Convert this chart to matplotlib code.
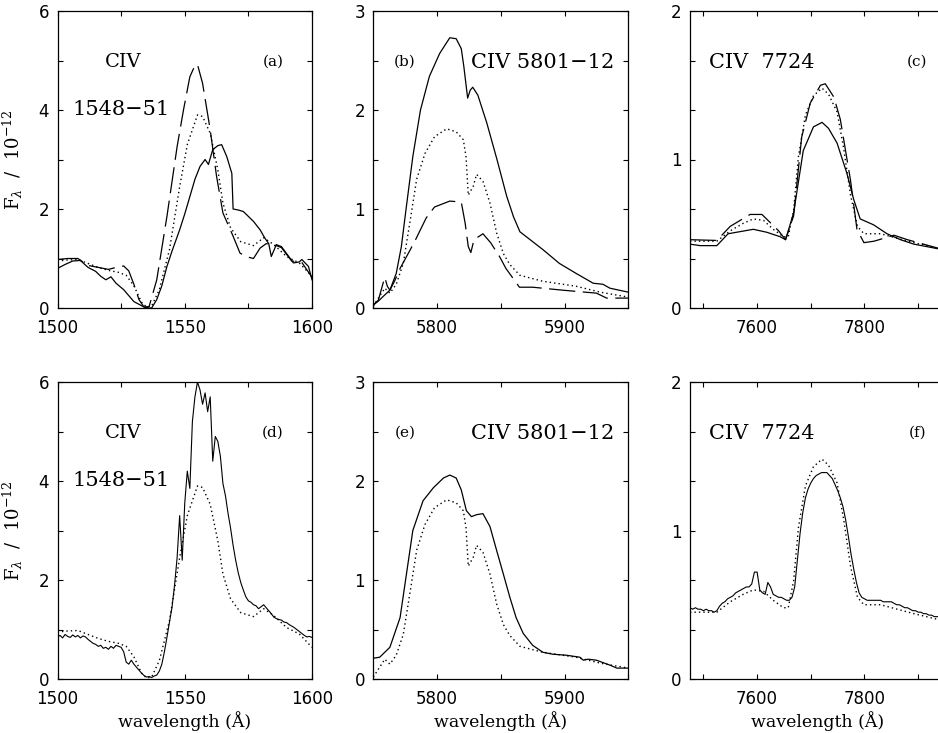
import numpy as np
import matplotlib
matplotlib.use("Agg")
import matplotlib.pyplot as plt
from matplotlib.ticker import MultipleLocator, FixedLocator

plt.rcParams['font.family'] = ['DejaVu Serif']
plt.rcParams['mathtext.fontset'] = 'dejavuserif'

# ---- CIV 1548-51 (panels a, d) ----
uv_solid_wl = [1500, 1503, 1506, 1509, 1512, 1515, 1517, 1519, 1521, 1523, 1526, 1530, 1534, 1536, 1537,
               1539, 1541, 1543, 1545, 1548, 1550, 1552, 1554, 1556, 1558, 1559.3, 1561, 1563, 1564.5,
               1566.5, 1568.5, 1569, 1571, 1573, 1575, 1577, 1579.6, 1581.5, 1583, 1584, 1586, 1588,
               1590, 1592.7, 1595, 1596, 1598.6, 1600]
uv_solid = [0.80, 0.88, 0.95, 0.96, 0.82, 0.74, 0.64, 0.57, 0.63, 0.50, 0.37, 0.13, 0.02, 0.0, 0.0,
            0.17, 0.45, 0.84, 1.15, 1.58, 1.90, 2.25, 2.60, 2.86, 3.00, 2.90, 3.20, 3.28, 3.30,
            3.06, 2.72, 2.00, 1.98, 1.95, 1.85, 1.75, 1.58, 1.41, 1.30, 1.04, 1.28, 1.24,
            1.10, 0.91, 0.93, 0.98, 0.84, 0.57]

uv_dot_wl = [1500, 1504, 1508, 1512, 1516, 1520, 1524, 1527, 1530, 1533, 1535, 1537, 1540, 1544, 1548,
             1551, 1555, 1557, 1560, 1563, 1565, 1568, 1572, 1577, 1581, 1585, 1590, 1595, 1600]
uv_dot = [0.95, 0.97, 0.98, 0.90, 0.82, 0.76, 0.72, 0.66, 0.45, 0.12, 0.02, 0.04, 0.37, 1.18, 2.45,
          3.30, 3.90, 3.87, 3.53, 2.79, 2.12, 1.62, 1.34, 1.26, 1.42, 1.28, 1.04, 0.91, 0.64]

uv_dash_wl = [1500, 1504, 1508, 1512, 1516, 1520, 1523, 1526, 1528, 1530, 1532, 1534, 1536, 1539, 1543,
              1547, 1549.5, 1552, 1554, 1555, 1557, 1560, 1562.5, 1565, 1569, 1571.7, 1574, 1577,
              1579.6, 1582, 1585, 1588, 1592, 1596, 1600]
uv_dash = [0.98, 1.00, 1.00, 0.86, 0.82, 0.78, 0.82, 0.85, 0.75, 0.48, 0.17, 0.02, 0.03, 0.57, 1.85,
           3.26, 4.00, 4.67, 4.90, 4.92, 4.54, 3.60, 2.66, 1.92, 1.45, 1.11, 1.04, 1.00,
           1.21, 1.30, 1.28, 1.22, 0.95, 0.92, 0.62]

# observed spectrum, 1 A bins from 1500 to 1600
uv_obs_wl = np.arange(1500, 1601)
uv_obs = [0.85, 0.88, 0.83, 0.90, 0.86, 0.84, 0.89, 0.85, 0.88, 0.83,
          0.87, 0.85, 0.80, 0.76, 0.72, 0.70, 0.66, 0.68, 0.62, 0.64,
          0.60, 0.66, 0.62, 0.68, 0.66, 0.64, 0.55, 0.34, 0.30, 0.38,
          0.30, 0.24, 0.18, 0.12, 0.07, 0.04, 0.05, 0.03, 0.06, 0.08,
          0.16, 0.30, 0.55, 0.84, 1.15, 1.45, 1.90, 2.45, 3.30, 2.40,
          3.55, 4.20, 3.85, 5.20, 5.70, 6.00, 5.84, 5.55, 5.78, 5.40,
          5.70, 4.40, 4.90, 4.80, 4.50, 3.95, 3.70, 3.35, 3.05, 2.70,
          2.40, 2.15, 1.95, 1.80, 1.66, 1.58, 1.55, 1.50, 1.48, 1.42,
          1.46, 1.50, 1.44, 1.38, 1.32, 1.25, 1.22, 1.20, 1.19, 1.15,
          1.14, 1.10, 1.07, 1.04, 1.00, 0.96, 0.92, 0.88, 0.85, 0.86,
          0.84]

# ---- CIV 5801-12 (panels b, e) ----
vis_solid_wl = [5750, 5754, 5758, 5763, 5768, 5772, 5776, 5781, 5787, 5794, 5802, 5810, 5815, 5819,
                5821, 5824, 5826, 5828, 5832, 5839, 5847, 5854.6, 5860, 5865, 5873, 5883, 5896,
                5909, 5922.5, 5930, 5935.6, 5950]
vis_solid = [0.03, 0.07, 0.12, 0.18, 0.35, 0.62, 1.03, 1.53, 2.00, 2.34, 2.57, 2.73, 2.72, 2.62,
             2.44, 2.12, 2.20, 2.23, 2.15, 1.87, 1.50, 1.13, 0.92, 0.77, 0.69, 0.59, 0.45,
             0.35, 0.25, 0.24, 0.20, 0.16]

vis_dot_wl = [5750, 5755, 5759, 5763, 5768, 5773.5, 5779, 5784, 5790.5, 5798, 5807.5, 5815, 5820.6,
              5822.7, 5824.5, 5828.4, 5831, 5836, 5841.5, 5846.7, 5852, 5857, 5865, 5883, 5909,
              5928, 5950]
vis_dot = [0.02, 0.12, 0.20, 0.15, 0.24, 0.45, 0.89, 1.30, 1.56, 1.73, 1.81, 1.78, 1.70,
           1.53, 1.14, 1.23, 1.35, 1.28, 1.06, 0.76, 0.55, 0.44, 0.33, 0.27, 0.22,
           0.16, 0.11]

vis_dash_wl = [5750, 5754, 5757, 5759, 5761, 5763, 5767, 5771, 5782, 5791.5, 5798, 5810,
               5819, 5822, 5824.5, 5826.5, 5829, 5836, 5842, 5849, 5854, 5864.6,
               5875, 5898.5, 5925, 5933, 5950]
vis_dash = [0.03, 0.08, 0.22, 0.31, 0.22, 0.18, 0.28, 0.40, 0.66, 0.91, 1.02, 1.08,
            1.07, 0.86, 0.62, 0.56, 0.69, 0.75, 0.66, 0.52, 0.40, 0.21,
            0.21, 0.18, 0.15, 0.10, 0.10]

vis_obs_wl = [5750, 5755, 5763, 5771, 5776, 5781, 5789, 5797, 5805, 5810, 5815, 5819, 5823, 5827,
              5831, 5836, 5841.5, 5846.7, 5852, 5857, 5862, 5867.6, 5875, 5883, 5891, 5901.6,
              5912, 5914.7, 5918.6, 5925, 5935.6, 5941, 5950]
vis_obs = [0.21, 0.22, 0.32, 0.62, 1.06, 1.50, 1.80, 1.93, 2.03, 2.06, 2.03, 1.91, 1.70, 1.64,
           1.66, 1.67, 1.54, 1.30, 1.06, 0.83, 0.62, 0.46, 0.34, 0.27, 0.25, 0.24,
           0.22, 0.19, 0.20, 0.19, 0.14, 0.11, 0.11]

# ---- CIV 7724 (panels c, f) ----
ir_solid_wl = [7475, 7494, 7525, 7546, 7593, 7618, 7643, 7653, 7668, 7686, 7705, 7721, 7733, 7749,
               7767, 7780, 7792, 7817, 7842, 7867, 7892, 7950]
ir_solid = [0.43, 0.42, 0.42, 0.50, 0.53, 0.51, 0.48, 0.46, 0.64, 1.06, 1.22, 1.25, 1.21, 1.11,
            0.91, 0.73, 0.60, 0.56, 0.50, 0.46, 0.43, 0.39]

ir_dot_wl = [7475, 7500, 7525, 7550, 7574, 7593, 7612, 7630, 7649, 7658, 7668, 7677, 7690, 7705,
             7721, 7733, 7749, 7761, 7774, 7787, 7799, 7830, 7861, 7892, 7950]
ir_dot = [0.45, 0.45, 0.45, 0.52, 0.57, 0.60, 0.59, 0.53, 0.48, 0.48, 0.66, 1.02, 1.30, 1.43,
          1.48, 1.44, 1.32, 1.08, 0.76, 0.55, 0.50, 0.50, 0.47, 0.44, 0.39]

ir_dash_wl = [7475, 7525, 7550, 7587, 7609, 7640, 7653, 7668, 7683, 7699, 7718, 7727, 7743, 7755,
              7774, 7786, 7799, 7818, 7855, 7880, 7950]
ir_dash = [0.46, 0.455, 0.55, 0.63, 0.63, 0.52, 0.46, 0.62, 1.15, 1.38, 1.50, 1.51, 1.42, 1.27,
           0.86, 0.53, 0.44, 0.45, 0.49, 0.46, 0.39]

# observed spectrum, 5 A bins from 7475 to 7950
ir_obs_wl = np.arange(7475, 7951, 5)
ir_obs = [0.48, 0.47, 0.48, 0.47, 0.47, 0.46, 0.47, 0.46, 0.46, 0.45,
          0.46, 0.49, 0.51, 0.52, 0.54, 0.55, 0.56, 0.58, 0.59, 0.60,
          0.61, 0.62, 0.62, 0.64, 0.72, 0.72, 0.60, 0.58, 0.57, 0.65,
          0.62, 0.57, 0.56, 0.55, 0.55, 0.54, 0.53, 0.53, 0.55, 0.62,
          0.80, 0.98, 1.12, 1.22, 1.28, 1.32, 1.35, 1.37, 1.38, 1.39,
          1.39, 1.39, 1.37, 1.35, 1.31, 1.27, 1.22, 1.16, 1.07, 0.96,
          0.84, 0.74, 0.65, 0.58, 0.55, 0.54, 0.53, 0.53, 0.53, 0.53,
          0.53, 0.53, 0.52, 0.52, 0.52, 0.52, 0.51, 0.50, 0.50, 0.49,
          0.48, 0.48, 0.47, 0.46, 0.46, 0.45, 0.45, 0.44, 0.44, 0.43,
          0.43, 0.42, 0.42, 0.42, 0.41, 0.41]

W, H = 938, 733
fig = plt.figure(figsize=(W / 100, H / 100), dpi=100)


def make_ax(left, top, width=255, height=297):
    return fig.add_axes([left / W, 1 - (top + height) / H, width / W, height / H])


solid = dict(color='black', lw=0.9, ls='-')
dotted = dict(color='black', lw=1.0, ls=(0, (1, 2.2)))
dashed = dict(color='black', lw=0.9, ls=(0, (21, 6)))


def style(ax, xlim, ylim, xmaj, xmin, ymaj, ymin):
    ax.set_xlim(*xlim)
    ax.set_ylim(*ylim)
    ax.xaxis.set_major_locator(FixedLocator(xmaj))
    ax.xaxis.set_minor_locator(MultipleLocator(xmin))
    ax.yaxis.set_major_locator(FixedLocator(ymaj))
    ax.yaxis.set_minor_locator(FixedLocator(ymin))
    ax.tick_params(which='both', direction='in', top=True, right=True, length=3.5, width=0.8,
                   labelsize=12)
    ax.tick_params(axis='x', pad=8)
    ax.tick_params(axis='y', pad=6)
    for lab in ax.get_xticklabels() + ax.get_yticklabels():
        lab.set_family('DejaVu Sans')
    for s in ax.spines.values():
        s.set_linewidth(0.9)


tfs = 15
lfs = 11

rows = [(11, False), (382, True)]
for r, (top, obs) in enumerate(rows):
    # CIV 1548-51
    ax = make_ax(57.5, top, width=254.5)
    if obs:
        ax.plot(uv_obs_wl, uv_obs, color='black', lw=0.8)
        ax.plot(uv_dot_wl, uv_dot, **dotted)
    else:
        ax.plot(uv_solid_wl, uv_solid, **solid)
        ax.plot(uv_dot_wl, uv_dot, **dotted)
        ax.plot(uv_dash_wl, uv_dash, **dashed)
    style(ax, (1500, 1600), (0, 6), [1500, 1550, 1600], 25, [0, 2, 4, 6], [1, 3, 5])
    ax.text(0.257, 0.828, 'CIV', transform=ax.transAxes, ha='center', va='center', fontsize=14)
    ax.text(0.25, 0.667, '1548\u221251', transform=ax.transAxes, ha='center', va='center', fontsize=tfs)
    ax.text(0.847, 0.828, '(d)' if obs else '(a)', transform=ax.transAxes, ha='center', va='center',
            fontsize=lfs)
    ax.set_ylabel(r'F$_\lambda$  /  10$^{-12}$', fontsize=13)
    ax.yaxis.set_label_coords(-0.128, 0.5)
    if obs:
        ax.set_xlabel('wavelength (\u00c5)', fontsize=12.5)
        ax.xaxis.set_label_coords(0.5, -0.108)

    # CIV 5801-12
    ax = make_ax(373.3, top)
    if obs:
        ax.plot(vis_obs_wl, vis_obs, **solid)
        ax.plot(vis_dot_wl, vis_dot, **dotted)
    else:
        ax.plot(vis_solid_wl, vis_solid, **solid)
        ax.plot(vis_dot_wl, vis_dot, **dotted)
        ax.plot(vis_dash_wl, vis_dash, **dashed)
    style(ax, (5750, 5950), (0, 3), [5800, 5900], 50, [0, 1, 2, 3], [0.5, 1.5, 2.5])
    ax.text(0.124, 0.828, '(e)' if obs else '(b)', transform=ax.transAxes, ha='center', va='center',
            fontsize=lfs)
    ax.text(0.946, 0.828, 'CIV 5801\u221212', transform=ax.transAxes, ha='right', va='center',
            fontsize=tfs)
    if obs:
        ax.set_xlabel('wavelength (\u00c5)', fontsize=12.5)
        ax.xaxis.set_label_coords(0.5, -0.108)

    # CIV 7724 (panel runs past the right edge of the figure)
    ax = make_ax(690, top)
    if obs:
        ax.plot(ir_obs_wl, ir_obs, color='black', lw=0.8)
        ax.plot(ir_dot_wl, ir_dot, **dotted)
    else:
        ax.plot(ir_solid_wl, ir_solid, **solid)
        ax.plot(ir_dot_wl, ir_dot, **dotted)
        ax.plot(ir_dash_wl, ir_dash, **dashed)
    style(ax, (7475, 7950), (0, 2), [7600, 7800], 100, [0, 1, 2], [1 / 3, 2 / 3, 4 / 3, 5 / 3])
    ax.text(0.0745, 0.828, 'CIV  7724', transform=ax.transAxes, ha='left', va='center', fontsize=tfs)
    ax.text(0.892, 0.828, '(f)' if obs else '(c)', transform=ax.transAxes, ha='center', va='center',
            fontsize=lfs)
    if obs:
        ax.set_xlabel('wavelength (\u00c5)', fontsize=12.5)
        ax.xaxis.set_label_coords(0.5, -0.108)

fig.savefig('out.png', dpi=100)
